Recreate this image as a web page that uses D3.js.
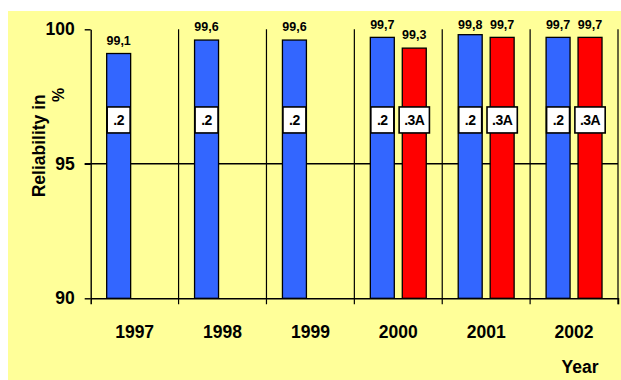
<!DOCTYPE html>
<html>
<head>
<meta charset="utf-8">
<script src="https://cdn.jsdelivr.net/npm/d3@7"></script>
<style>
  html, body { margin: 0; padding: 0; background: #ffffff; }
  svg { display: block; }
  text { font-family: "Liberation Sans", Arial, sans-serif; font-weight: bold; fill: #000; }
</style>
</head>
<body>
<svg id="chart" width="621" height="380"></svg>
<script>
// Reliability per year for the two systems
const years = ["1997", "1998", "1999", "2000", "2001", "2002"];
const seriesNames = [".2", ".3A"];
const series2 = [99.1, 99.6, 99.6, 99.7, 99.8, 99.7];
const series3A = [null, null, null, 99.3, 99.7, 99.7];
const yTicks = [90, 95, 100];
const valueLabels2 = ["99,1", "99,6", "99,6", "99,7", "99,8", "99,7"];
const valueLabels3A = [null, null, null, "99,3", "99,7", "99,7"];

const colors = { ".2": "#3366FF", ".3A": "#FF0000" };

const svg = d3.select("#chart");

// panel background
svg.append("rect")
  .attr("x", 8).attr("y", 11)
  .attr("width", 613).attr("height", 369)
  .attr("fill", "#FFFF99");

const plot = { left: 90.7, right: 618, top: 29.3, bottom: 298.3 };

const y = d3.scaleLinear().domain([90, 100]).range([plot.bottom, plot.top]);
const x0 = d3.scaleBand().domain(years).range([plot.left, plot.right]).padding(0);
const x1 = d3.scaleBand().domain(seriesNames).range([0, x0.bandwidth()])
  .paddingInner(0.25).paddingOuter(0.5);

// horizontal reference line at 95
svg.append("line")
  .attr("x1", plot.left - 6).attr("x2", plot.right)
  .attr("y1", y(95)).attr("y2", y(95))
  .attr("stroke", "#000").attr("stroke-width", 1.6);

// vertical separators between years, running down as ticks below the axis
const bounds = years.slice(1).map(d => x0(d)).concat([x0.range()[1]]);
svg.append("g").selectAll("line")
  .data(bounds)
  .join("line")
  .attr("x1", d => d).attr("x2", d => d)
  .attr("y1", plot.top).attr("y2", plot.bottom + 6)
  .attr("stroke", "#000").attr("stroke-width", 1.2);

// build bar records from the series arrays
const bars = [];
years.forEach((yr, i) => {
  if (series2[i] != null) bars.push({ year: yr, name: ".2", value: series2[i], label: valueLabels2[i] });
  if (series3A[i] != null) bars.push({ year: yr, name: ".3A", value: series3A[i], label: valueLabels3A[i] });
});

const gBars = svg.append("g");
gBars.selectAll("rect")
  .data(bars)
  .join("rect")
  .attr("x", d => x0(d.year) + x1(d.name))
  .attr("y", d => y(d.value))
  .attr("width", x1.bandwidth())
  .attr("height", d => y(90) - y(d.value))
  .attr("fill", d => colors[d.name])
  .attr("stroke", "#000")
  .attr("stroke-width", 1.3);

// value labels above bars
svg.append("g").selectAll("text")
  .data(bars)
  .join("text")
  .attr("x", d => x0(d.year) + x1(d.name) + x1.bandwidth() / 2)
  .attr("y", d => Math.max(y(d.value) - 9, 28.5))
  .attr("text-anchor", "middle")
  .attr("font-size", 12.5)
  .text(d => d.label);

// series name tags inside bars
const tagCenter = y(96.63);
const tags = svg.append("g").selectAll("g")
  .data(bars)
  .join("g")
  .attr("transform", d => `translate(${x0(d.year) + x1(d.name) + x1.bandwidth() / 2},${tagCenter})`);
tags.append("text")
  .attr("text-anchor", "middle")
  .attr("y", 5)
  .attr("font-size", 14)
  .attr("letter-spacing", -0.5)
  .text(d => d.name);
tags.each(function() {
  const g = d3.select(this);
  const w = g.select("text").node().getComputedTextLength();
  const bw = Math.max(x1.bandwidth() - 1, w + 10);
  g.insert("rect", "text")
    .attr("x", -bw / 2).attr("y", -13)
    .attr("width", bw).attr("height", 26)
    .attr("fill", "#fff")
    .attr("stroke", "#000")
    .attr("stroke-width", 1.6);
});

// y axis
const yAxis = d3.axisLeft(y).tickValues(yTicks).tickSize(6).tickSizeOuter(0).tickPadding(10)
  .tickFormat(d3.format("d"));
const gy = svg.append("g").attr("transform", `translate(${plot.left},0)`).call(yAxis);
gy.attr("font-family", null);
gy.selectAll("text").attr("font-size", 17.5);
gy.select(".domain").attr("stroke-width", 1.4);
gy.selectAll(".tick line").attr("stroke-width", 1.4);

// x axis
const xAxis = d3.axisBottom(x0).tickSize(0).tickSizeOuter(6).tickPadding(27);
const gx = svg.append("g").attr("transform", `translate(0,${plot.bottom})`).call(xAxis);
gx.attr("font-family", null);
gx.selectAll("text").attr("font-size", 17.5);
gx.select(".domain").attr("stroke-width", 1.5);

// axis titles
svg.append("text")
  .attr("transform", "translate(45,145.8) rotate(-90)")
  .attr("text-anchor", "middle")
  .attr("font-size", 17.5)
  .text("Reliability in");
svg.append("text")
  .attr("transform", "translate(63.5,95) rotate(-90)")
  .attr("text-anchor", "middle")
  .attr("font-size", 16)
  .text("%");
svg.append("text")
  .attr("x", 580).attr("y", 373)
  .attr("text-anchor", "middle")
  .attr("font-size", 17.5)
  .text("Year");
</script>
</body>
</html>
